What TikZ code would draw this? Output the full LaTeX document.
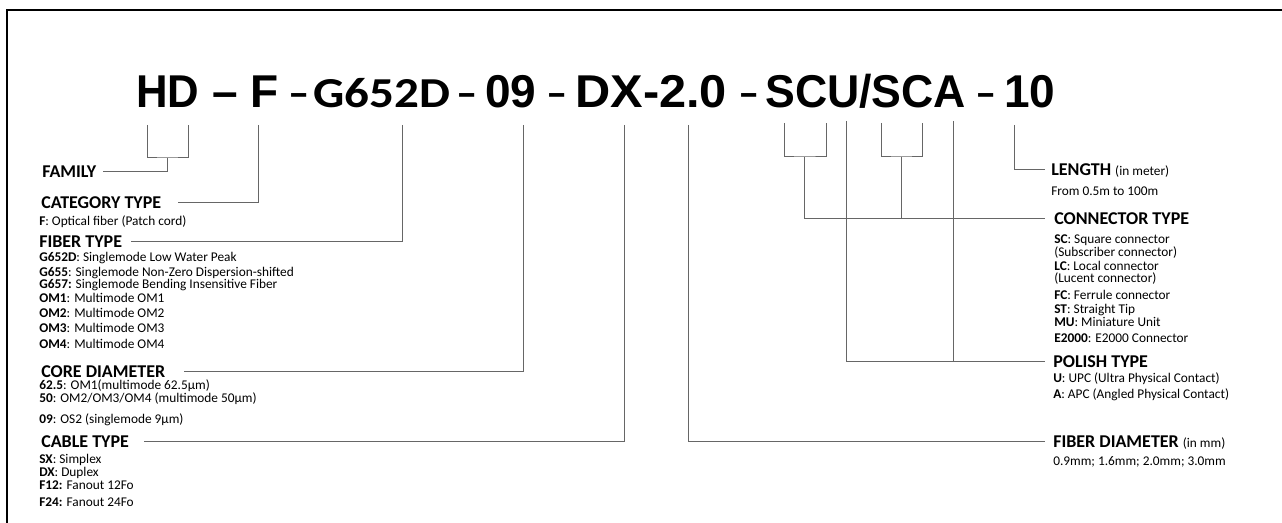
\documentclass[tikz,border=0pt]{standalone}
\usepackage{graphicx}
\usepackage{fontspec}
\setmainfont{Carlito}
\newfontfamily\arialfont{Liberation Sans}
\newcommand{\smallnote}[1]{{\mdseries\fontsize{10}{12}\selectfont #1}}
\newcommand{\squeeze}[2]{\scalebox{#1}[1]{#2}}
\tikzset{
  big/.style={font=\arialfont\bfseries\fontsize{34.5}{40}\selectfont, inner sep=0pt, anchor=base west},
  mid/.style={font=\bfseries\fontsize{32}{38}\selectfont, inner sep=0pt, anchor=base west},
  head/.style={font=\bfseries\fontsize{13.5}{16}\selectfont, inner sep=0pt, anchor=west, text height=8.5pt, text depth=0pt},
  item/.style={font=\fontsize{10}{12}\selectfont, inner sep=0pt, anchor=base west},
  conn/.style={draw=black!60, line width=0.75pt, shorten >=#1},
  conn/.default=5pt,
  bracket/.style={draw=black!60, line width=0.75pt}
}

\begin{document}
\begin{tikzpicture}[x=0.75pt,y=-0.75pt]
\useasboundingbox (0,0) rectangle (1282,523);
\draw[line width=1.5pt] (7,523) -- (7,10) -- (1282,10);

% the code
\node[big] (hd) at (136,108) {\squeeze{0.95}{HD}}; \node[big] (d1) at (212,108) {–};
\node[big] (f) at (250,108) {F}; \node[mid] (d2) at (288,108) {–};
\node[mid] (g652) at (313,108) {\squeeze{1.15}{G652D}}; \node[mid] (d3) at (456,108) {–};
\node[big] (nine) at (485,108) {09}; \node[mid] (d4) at (546,108) {–};
\node[big] (dx) at (575,108) {\squeeze{1.06}{DX-2.0}}; \node[mid] (d5) at (738,108) {–};
\node[big] (scu) at (765,108) {\squeeze{0.97}{SCU/SCA}}; \node[mid] (d6) at (975,108) {–};
\node[big] (ten) at (1004,108) {10};

% tick tops
\coordinate (tHDa) at (147,125); \coordinate (tHDb) at (188,125);
\coordinate (tF) at (258,125); \coordinate (tG) at (402,125);
\coordinate (tN) at (523,125); \coordinate (tDX) at (624,125);
\coordinate (tDia) at (688,125);
\coordinate (tSCUa) at (784,123); \coordinate (tSCUb) at (826,123);
\coordinate (tSl) at (846,121);
\coordinate (tSCAa) at (881,123); \coordinate (tSCAb) at (922,123);
\coordinate (tA) at (953,121); \coordinate (tLen) at (1014,125);
\coordinate (sHD) at (167,158); \coordinate (sSCU) at (804,157); \coordinate (sSCA) at (901,157);

% left headings
\node[head] (fam) at (42,172) {FAMILY};
\node[head] (cat) at (41,203) {CATEGORY TYPE};
\node[head] (fib) at (39,242) {FIBER TYPE};
\node[head] (core) at (41,372) {CORE DIAMETER};
\node[head] (cab) at (41,442) {CABLE TYPE};

% right headings
\node[head] (len) at (1051,170) {LENGTH \smallnote{(in meter)}};
\node[head] (con) at (1054,219) {CONNECTOR TYPE};
\node[head] (pol) at (1053,362) {POLISH TYPE};
\node[head] (dia) at (1053,442) {FIBER DIAMETER \smallnote{(in mm)}};

% items
\node[item] (cat1) at (39,226) {\textbf{F}: Optical fiber (Patch cord)};
\foreach \y/\t [count=\i] in {262/{\textbf{G652D}: Singlemode Low Water Peak},
  277/{\textbf{G655}: Singlemode Non-Zero Dispersion-shifted},
  289/{\textbf{G657:} Singlemode Bending Insensitive Fiber},
  303/{\textbf{OM1}: Multimode OM1}, 318/{\textbf{OM2}: Multimode OM2},
  333/{\textbf{OM3}: Multimode OM3}, 349/{\textbf{OM4}: Multimode OM4}}
  \node[item] (fib\i) at (39,\y) {\t};
\foreach \y/\t [count=\i] in {390/{\textbf{62.5}: OM1(multimode 62.5µm)},
  403/{\textbf{50}: OM2/OM3/OM4 (multimode 50µm)}, 424/{\textbf{09}: OS2 (singlemode 9µm)}}
  \node[item] (core\i) at (39,\y) {\t};
\foreach \y/\t [count=\i] in {464/{\textbf{SX}: Simplex}, 477/{\textbf{DX}: Duplex},
  490/{\textbf{F12:} Fanout 12Fo}, 507/{\textbf{F24:} Fanout 24Fo}}
  \node[item] (cab\i) at (39,\y) {\t};
\node[item] (len1) at (1051,196) {From 0.5m to 100m};
\foreach \y/\t [count=\i] in {244/{\textbf{SC}: Square connector}, 257/{(Subscriber connector)},
  271/{\textbf{LC}: Local connector}, 283/{(Lucent connector)},
  300/{\textbf{FC}: Ferrule connector}, 314/{\textbf{ST}: Straight Tip},
  327/{\textbf{MU}: Miniature Unit}, 343/{\textbf{E2000}: E2000 Connector}}
  \node[item] (con\i) at (1054,\y) {\t};
\node[item] (pol1) at (1053,383) {\textbf{U}: UPC (Ultra Physical Contact)};
\node[item] (pol2) at (1053,399) {\textbf{A}: APC (Angled Physical Contact)};
\node[item] (dia1) at (1053,466) {0.9mm; 1.6mm; 2.0mm; 3.0mm};

% brackets and leader lines
\draw[bracket] (tHDa) |- (sHD) -| (tHDb);
\draw[bracket] (tSCUa) |- (sSCU) -| (tSCUb);
\draw[bracket] (tSCAa) |- (sSCA) -| (tSCAb);
\draw[conn] (sHD) |- (fam.east);
\draw[conn=12.5pt] (tF) |- (cat.east);
\draw[conn=6.5pt] (tG) |- (fib.east);
\draw[conn=14pt] (tN) |- (core.east);
\draw[conn=11pt] (tDX) |- (cab.east);
\draw[conn=6pt] (tDia) |- (dia.west);
\draw[conn=6.5pt] (sSCU) |- (con.west);
\draw[bracket] (sSCA) -- (sSCA |- con.west);
\draw[conn=6pt] (tSl) |- (pol.west);
\draw[bracket] (tA) -- (tA |- pol.west);
\draw[conn=4.5pt] (tLen) |- (len.west);
\end{tikzpicture}
\end{document}
